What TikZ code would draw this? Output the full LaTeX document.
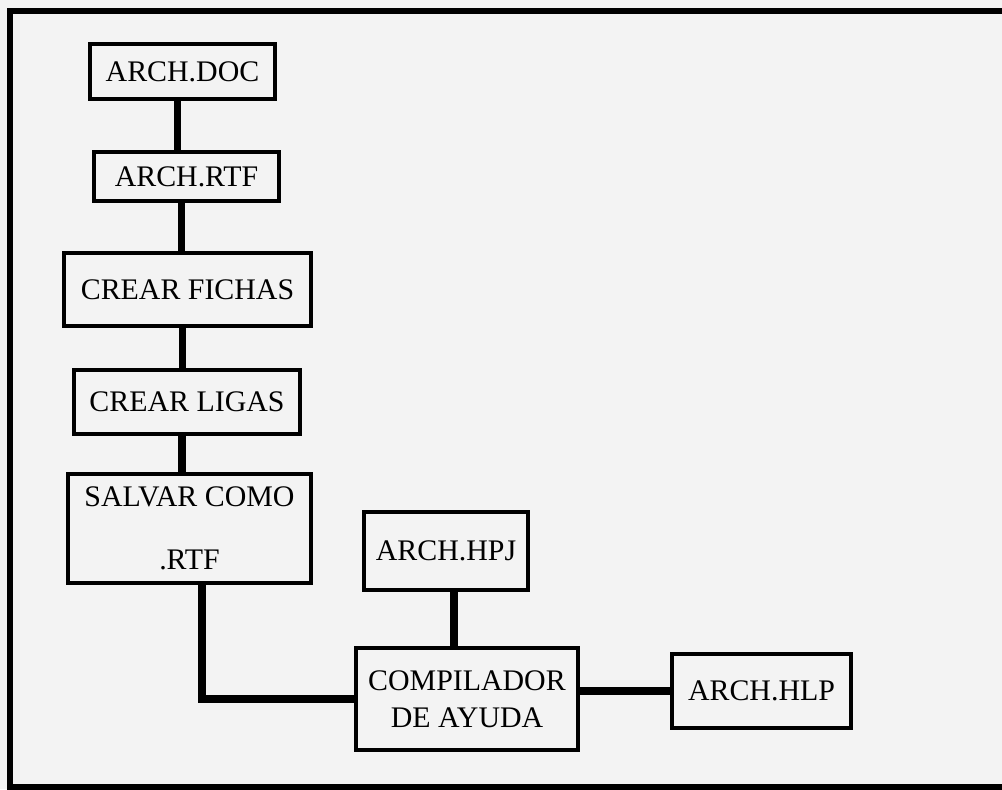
\documentclass[tikz,border=0pt]{standalone}
\usepackage{fontspec}
\setmainfont{Liberation Serif}
\usepackage{xcolor}
\usepackage{tikz}

\definecolor{papel}{HTML}{F3F3F3}

\begin{document}
\begin{tikzpicture}[
    caja/.style={draw, line width=2.4pt, fill=papel, align=center, inner sep=0pt,
      font=\fontsize{17}{21}\selectfont},
    liga/.style={line width=4.5pt}
  ]
  \useasboundingbox (0,0) rectangle (20.04,15.78);
  \fill[papel] (0,0) rectangle (20.04,15.78);
  % marco exterior
  \draw[line width=3pt] (20.3,15.56) -- (0.2,15.56) -- (0.2,0.04) -- (20.3,0.04);

  % columna de pasos
  \node[caja, minimum width=3.7cm, minimum height=1.1cm] (doc) at (3.65,14.35) {ARCH.DOC};
  \node[caja, minimum width=3.7cm, minimum height=0.98cm] (rtf) at (3.73,12.25) {ARCH.RTF};
  \node[caja, minimum width=4.94cm, minimum height=1.46cm] (fichas) at (3.75,9.99) {CREAR FICHAS};
  \node[caja, minimum width=4.52cm, minimum height=1.28cm] (ligas) at (3.74,7.74) {CREAR LIGAS};
  \node[caja, minimum width=4.86cm, minimum height=2.18cm] (salvar) at (3.79,5.21) {SALVAR COMO\\[15pt] .RTF};

  % compilacion
  \node[caja, minimum width=3.28cm, minimum height=1.56cm] (hpj) at (8.92,4.76) {ARCH.HPJ};
  \node[caja, minimum width=4.44cm, minimum height=2.04cm] (comp) at (9.34,1.80) {COMPILADOR\\DE AYUDA};
  \node[caja, minimum width=3.58cm, minimum height=1.48cm] (hlp) at (15.23,1.96) {ARCH.HLP};

  % ligas
  \draw[liga] ([xshift=-0.1cm]doc.south) -- ([xshift=-0.1cm]doc.south |- rtf.north);
  \draw[liga] ([xshift=-0.1cm]rtf.south) -- ([xshift=-0.1cm]rtf.south |- fichas.north);
  \draw[liga] ([xshift=-0.1cm]fichas.south) -- ([xshift=-0.1cm]fichas.south |- ligas.north);
  \draw[liga] ([xshift=-0.1cm]ligas.south) -- ([xshift=-0.1cm]ligas.south |- salvar.north);
  \draw[liga] ([xshift=0.25cm]salvar.south) |- (comp.west);
  \draw[liga] ([xshift=0.16cm]hpj.south) -- ([xshift=0.16cm]hpj.south |- comp.north);
  \draw[liga] (comp.east |- hlp.west) -- (hlp.west);
\end{tikzpicture}
\end{document}
